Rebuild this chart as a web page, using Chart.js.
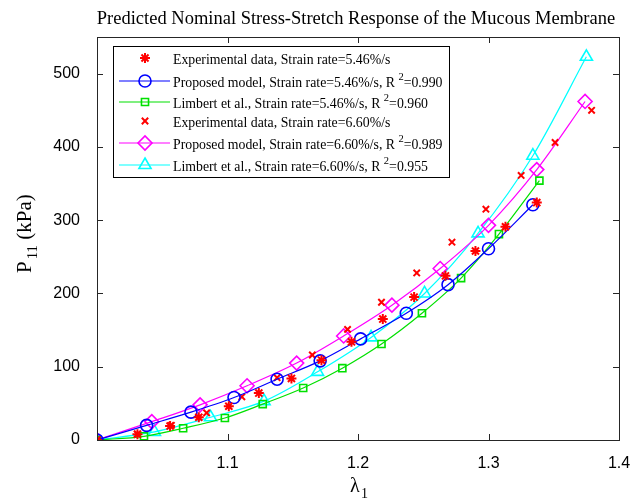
<!DOCTYPE html>
<html>
<head>
<meta charset="utf-8">
<script src="https://cdn.jsdelivr.net/npm/chart.js@4.4.1/dist/chart.umd.min.js"></script>
<style>
  body { margin: 0; background: #fff; }
  #wrap { width: 637px; height: 503px; }
</style>
</head>
<body>
<div id="wrap"><canvas id="stressChart"></canvas></div>
<script>
// stretch (lambda_1) and nominal stress P_11 in kPa
const stretchExp546 = [1.000, 1.031, 1.056, 1.078, 1.101, 1.124, 1.149, 1.172, 1.195, 1.219, 1.243, 1.267, 1.290, 1.313, 1.337];
const stressExp546 = [0, 8, 19, 31, 46, 64, 84, 109, 134, 165, 195, 224, 258, 291, 324];

const stretchModel546 = [1.000, 1.038, 1.072, 1.105, 1.138, 1.171, 1.202, 1.237, 1.269, 1.300, 1.334];
const stressModel546 = [0, 20, 38, 58, 83, 108, 138, 173, 212, 261, 321];

const stretchLimbert546 = [1.000, 1.036, 1.066, 1.098, 1.127, 1.158, 1.188, 1.218, 1.249, 1.279, 1.308, 1.339];
const stressLimbert546 = [0, 5, 16, 30, 49, 71, 98, 131, 173, 221, 281, 354];

const stretchExp660 = [1.000, 1.031, 1.057, 1.084, 1.111, 1.138, 1.165, 1.192, 1.218, 1.245, 1.272, 1.298, 1.325, 1.351, 1.379];
const stressExp660 = [0, 8, 20, 37, 59, 85, 116, 151, 188, 228, 270, 315, 361, 406, 450];

const stretchModel660 = [1.000, 1.042, 1.079, 1.115, 1.153, 1.189, 1.226, 1.263, 1.300, 1.337, 1.374];
const stressModel660 = [0, 25, 48, 74, 105, 142, 184, 234, 293, 369, 462];

const stretchLimbert660 = [1.000, 1.044, 1.087, 1.128, 1.169, 1.210, 1.251, 1.292, 1.334, 1.375];
const stressLimbert660 = [0, 11, 31, 53, 93, 140, 200, 282, 388, 523];

const seriesLabels = [
  'Experimental data, Strain rate=5.46%/s',
  'Proposed model, Strain rate=5.46%/s, R',
  'Limbert et al., Strain rate=5.46%/s, R',
  'Experimental data, Strain rate=6.60%/s',
  'Proposed model, Strain rate=6.60%/s, R',
  'Limbert et al., Strain rate=6.60%/s, R'
];
const rSquared = [null, '0.990', '0.960', null, '0.989', '0.955'];

const xTicks = [1.1, 1.2, 1.3, 1.4];
const yTicks = [0, 100, 200, 300, 400, 500];

const SERIF = '"Liberation Serif", "Times New Roman", serif';
const SANS = '"Liberation Sans", Arial, Helvetica, sans-serif';
const AXIS_COLOR = '#262626';

function pts(xs, ys) {
  return xs.map((x, i) => ({ x: x, y: ys[i] }));
}

function series(i, xs, ys, color, style, radius, withLine) {
  return {
    label: seriesLabels[i],
    data: pts(xs, ys),
    borderColor: color,
    backgroundColor: 'rgba(0,0,0,0)',
    pointBorderColor: color,
    pointBackgroundColor: 'rgba(0,0,0,0)',
    pointStyle: style,
    pointRadius: radius,
    pointBorderWidth: style === 'star' || style === 'crossRot' ? 2 : 1.6,
    borderWidth: 1.2,
    showLine: withLine,
    cubicInterpolationMode: 'monotone'
  };
}

const datasets = [
  series(0, stretchExp546, stressExp546, '#ff0000', 'star', 5, false),
  series(1, stretchModel546, stressModel546, '#0000ff', 'circle', 6, true),
  series(2, stretchLimbert546, stressLimbert546, '#00e000', 'rect', 5, true),
  series(3, stretchExp660, stressExp660, '#ff0000', 'crossRot', 4.5, false),
  series(4, stretchModel660, stressModel660, '#ff00ff', 'rectRot', 7, true),
  series(5, stretchLimbert660, stressLimbert660, '#00ffff', 'triangle', 7, true)
];

// box, inward ticks, title, axis labels and the boxed legend
const matlabFrame = {
  id: 'matlabFrame',
  afterDraw(chart) {
    const ctx = chart.ctx;
    const a = chart.chartArea;
    const xs = chart.scales.x, ys = chart.scales.y;
    ctx.save();
    ctx.strokeStyle = AXIS_COLOR;
    ctx.lineWidth = 1;
    ctx.strokeRect(a.left + 0.5, a.top + 0.5, a.right - a.left, a.bottom - a.top);
    ctx.beginPath();
    xTicks.forEach(v => {
      const px = Math.round(xs.getPixelForValue(v)) + 0.5;
      ctx.moveTo(px, a.bottom); ctx.lineTo(px, a.bottom - 6);
      ctx.moveTo(px, a.top); ctx.lineTo(px, a.top + 6);
    });
    yTicks.forEach(v => {
      const py = Math.round(ys.getPixelForValue(v)) + 0.5;
      ctx.moveTo(a.left, py); ctx.lineTo(a.left + 6, py);
      ctx.moveTo(a.right, py); ctx.lineTo(a.right - 6, py);
    });
    ctx.stroke();

    // title
    ctx.fillStyle = '#000';
    ctx.font = '18.5px ' + SERIF;
    ctx.textAlign = 'center';
    ctx.textBaseline = 'alphabetic';
    ctx.fillText('Predicted Nominal Stress-Stretch Response of the Mucous Membrane', (a.left + a.right) / 2 - 2, 24);

    // x label: lambda_1
    ctx.font = '20px ' + SERIF;
    ctx.textAlign = 'left';
    ctx.fillText('\u03bb', 350, 492);
    ctx.font = '14px ' + SERIF;
    ctx.fillText('1', 361, 498);

    // y label: P_11 (kPa)
    ctx.save();
    ctx.translate(31, 273);
    ctx.rotate(-Math.PI / 2);
    ctx.font = '21px ' + SERIF;
    ctx.fillText('P', 0, 0);
    let w = ctx.measureText('P').width;
    ctx.font = '15px ' + SERIF;
    ctx.fillText('11', w + 2, 6);
    w += 2 + ctx.measureText('11').width;
    ctx.font = '21px ' + SERIF;
    ctx.fillText(' (kPa)', w, 0);
    ctx.restore();

    // legend
    const box = { x: 113.5, y: 46.5, w: 336, h: 131 };
    ctx.fillStyle = '#fff';
    ctx.fillRect(box.x, box.y, box.w, box.h);
    ctx.strokeStyle = '#000';
    ctx.lineWidth = 1;
    ctx.strokeRect(box.x, box.y, box.w, box.h);
    const rows = [58, 81, 102, 121, 143, 165];
    chart.data.datasets.forEach((ds, i) => {
      const cy = rows[i];
      ctx.strokeStyle = ds.borderColor;
      if (ds.showLine) {
        ctx.lineWidth = 1.2;
        ctx.beginPath();
        ctx.moveTo(119, cy); ctx.lineTo(170, cy);
        ctx.stroke();
      }
      ctx.lineWidth = ds.pointBorderWidth;
      ctx.fillStyle = 'rgba(0,0,0,0)';
      Chart.helpers.drawPoint(ctx, { pointStyle: ds.pointStyle, radius: ds.pointRadius, rotation: 0, borderWidth: ds.pointBorderWidth }, 145, cy);
      ctx.fillStyle = '#000';
      ctx.font = '13.8px ' + SERIF;
      ctx.textAlign = 'left';
      ctx.textBaseline = 'middle';
      let tx = 173;
      ctx.fillText(ds.label, tx, cy + 2);
      if (rSquared[i]) {
        tx += ctx.measureText(ds.label + ' ').width;
        ctx.font = '10.5px ' + SERIF;
        ctx.fillText('2', tx, cy - 4);
        tx += ctx.measureText('2').width;
        ctx.font = '13.8px ' + SERIF;
        ctx.fillText('=' + rSquared[i], tx, cy + 2);
      }
    });
    ctx.restore();
  }
};

new Chart(document.getElementById('stressChart'), {
  type: 'scatter',
  data: { datasets: datasets },
  options: {
    responsive: true,
    maintainAspectRatio: false,
    animation: false,
    layout: { padding: { left: 0, top: 37, right: 18, bottom: 0 } },
    plugins: { legend: { display: false }, tooltip: { enabled: false }, title: { display: false } },
    scales: {
      x: {
        type: 'linear', min: 1, max: 1.4,
        afterBuildTicks: s => { s.ticks = xTicks.map(v => ({ value: v })); },
        afterFit: s => { s.height = 63; },
        grid: { display: false },
        border: { display: false },
        ticks: { color: '#000', padding: 6, font: { family: SANS, size: 16 }, maxRotation: 0, callback: v => v.toFixed(1) }
      },
      y: {
        type: 'linear', min: 0, max: 550,
        afterBuildTicks: s => { s.ticks = yTicks.map(v => ({ value: v })); },
        afterFit: s => { s.width = 97; },
        grid: { display: false },
        border: { display: false },
        ticks: { color: '#000', padding: 9, font: { family: SANS, size: 16 } }
      }
    }
  },
  plugins: [matlabFrame]
});
</script>
</body>
</html>
